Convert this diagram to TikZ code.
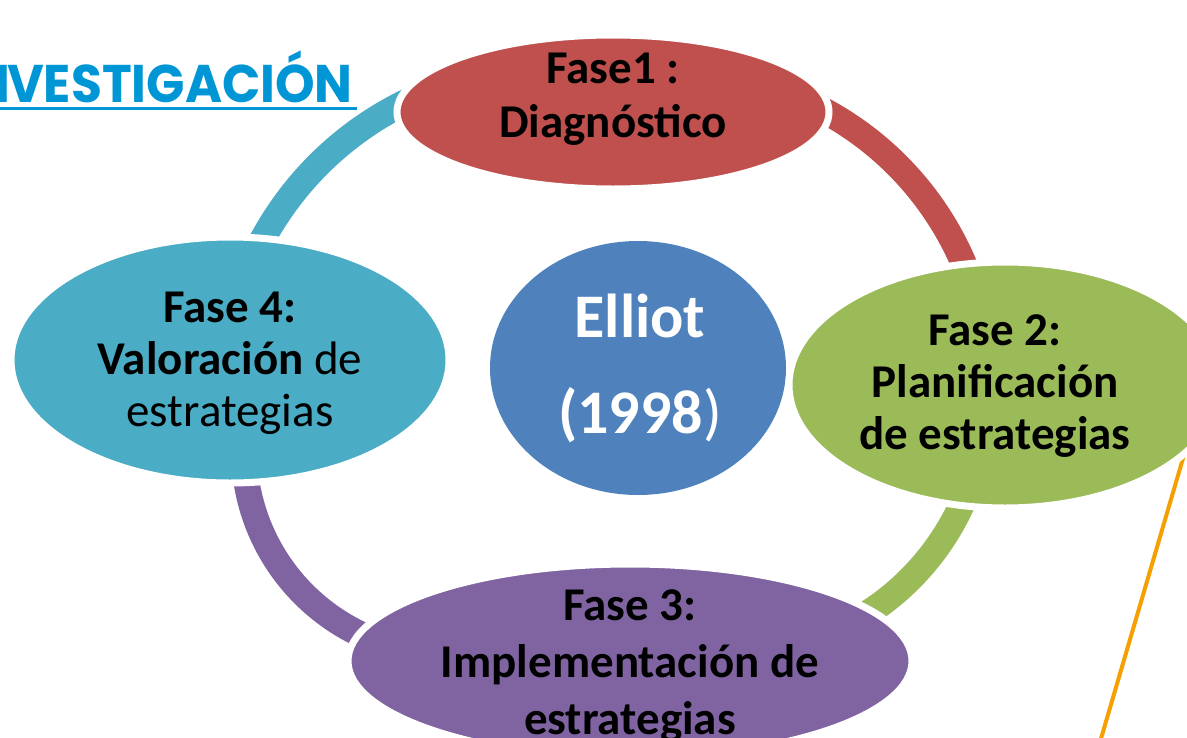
\documentclass[tikz,border=0pt]{standalone}
\usepackage{fontspec}
\setmainfont{Carlito}
\newfontfamily\titlefont{Poppins}
\usetikzlibrary{shapes.geometric,calc}
\definecolor{cred}{HTML}{C0504D}
\definecolor{cgreen}{HTML}{9BBB59}
\definecolor{cpurple}{HTML}{8064A2}
\definecolor{cteal}{HTML}{4BACC6}
\definecolor{cblue}{HTML}{4F81BD}
\definecolor{corange}{HTML}{F5A000}
\definecolor{ctitle}{HTML}{0096D6}
\begin{document}
\begin{tikzpicture}[x=1pt,y=1pt,
  phase/.style={ellipse, draw=white, line width=7pt, inner sep=0pt},
  band/.style={line width=26pt, line cap=butt},
  lbl/.style={anchor=base, inner sep=0pt, text=black}]
\useasboundingbox (0,0) rectangle (1187,-737);
% ring arcs
\coordinate (cR) at (675,-387);
\coordinate (cT) at (549,-395);
\coordinate (cP) at (448,-450);
\coordinate (cG) at (729,-398);
\draw[band, cred] (cR) ++(70:314) arc[start angle=70, end angle=17, radius=314];
\draw[band, cteal] (cT) ++(110:326) arc[start angle=110, end angle=158, radius=326];
\draw[band, cpurple] (cP) ++(183:204) arc[start angle=183, end angle=250, radius=204];
\draw[band, cgreen] (cG) ++(-18:256) arc[start angle=-18, end angle=-62, radius=256];
% orange line
\coordinate (o1) at (1203,-390);
\coordinate (o2) at (1100,-742);
\draw[corange, line width=4pt] (o1) -- (o2);
% centre
\node[ellipse, fill=cblue, minimum width=296, minimum height=254, inner sep=0pt] (elliot) at (638,-368) {};
% phases
\node[phase, fill=cred, minimum width=432, minimum height=154] (f1) at (613,-112) {};
\node[phase, fill=cgreen, minimum width=432, minimum height=246] (f2) at (1005,-385) {};
\node[phase, fill=cpurple, minimum width=564, minimum height=194] (f3) at (630,-661) {};
\node[phase, fill=cteal, minimum width=438, minimum height=246] (f4) at (230,-360) {};
% texts
\node[lbl, font=\fontsize{47}{54}\selectfont\bfseries] (t1) at (613,-83)
  {\begin{tabular}[t]{@{}c@{}}Fase1 :\\Diagnóstico\end{tabular}};
\node[lbl, font=\fontsize{47}{52}\selectfont\bfseries] (t2) at (995,-345)
  {\begin{tabular}[t]{@{}c@{}}Fase 2:\\Planificación\\de estrategias\end{tabular}};
\node[lbl, font=\fontsize{47}{57}\selectfont\bfseries] (t3) at (630,-620)
  {\begin{tabular}[t]{@{}c@{}}Fase 3:\\Implementación de\\estrategias\end{tabular}};
\node[lbl, font=\fontsize{47}{52}\selectfont] (t4) at (230,-322)
  {\begin{tabular}[t]{@{}c@{}}\textbf{Fase 4:}\\\textbf{Valoración} de\\estrategias\end{tabular}};
\node[lbl, text=white, font=\fontsize{62}{96}\selectfont] (t0) at (640,-337)
  {\begin{tabular}[t]{@{}c@{}}\textbf{Elliot}\\\textbf{(1998})\end{tabular}};
% title
\node[anchor=base east, inner sep=0pt, text=ctitle, font=\titlefont\bfseries\fontsize{53}{60}\selectfont] (title) at (353,-102) {\scalebox{0.95}[1]{I\kern-3pt VESTIGACIÓN}};
\draw[ctitle, line width=3pt] ($(title.base west)+(-5,-6)$) -- ($(title.base east)+(4,-6)$);
\end{tikzpicture}
\end{document}
